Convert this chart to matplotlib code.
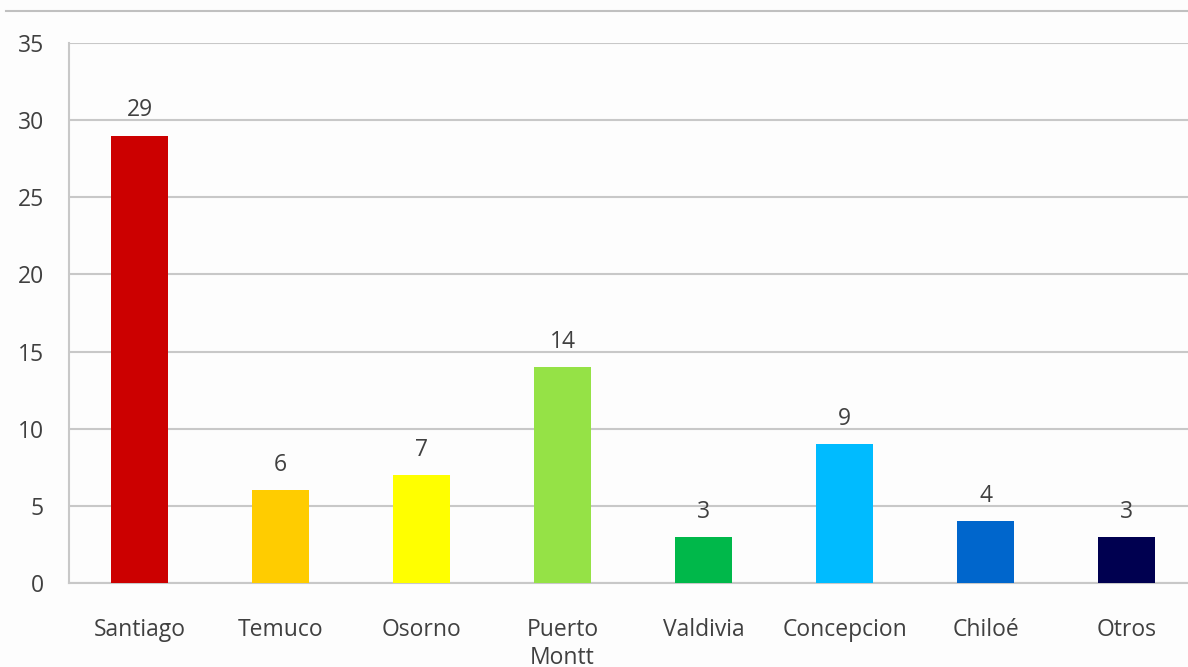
import matplotlib
matplotlib.use("Agg")
import matplotlib.pyplot as plt
from matplotlib.lines import Line2D

categories = ["Santiago", "Temuco", "Osorno", "Puerto\nMontt", "Valdivia", "Concepcion", "Chiloé", "Otros"]
values = [29, 6, 7, 14, 3, 9, 4, 3]
colors = ["#CC0000", "#FFCC00", "#FFFF00", "#95E246", "#00B84A", "#00BBFF", "#0066CC", "#000050"]
yticks = [0, 5, 10, 15, 20, 25, 30, 35]

plt.rcParams['font.family'] = ['Open Sans', 'DejaVu Sans']

W, H = 1188, 667
fig = plt.figure(figsize=(W / 100, H / 100), dpi=100, facecolor="#FDFDFD")
ax = fig.add_axes([69 / W, (H - 583) / H, 1128 / W, 540 / H], facecolor="#FDFDFD")

FS = 16.5
x = list(range(len(categories)))
ax.bar(x, values, width=0.4, color=colors, zorder=3)
for xi, v in zip(x, values):
    ax.text(xi, v + 0.85, str(v), ha="center", va="bottom", fontsize=FS, color="#404040")

ax.set_xlim(-0.5, len(categories) - 0.5)
ax.set_ylim(0, 35)
ax.set_yticks(yticks)
ax.set_xticks(x)
ax.set_xticklabels(categories, fontsize=FS, color="#404040", linespacing=1.25)
ax.tick_params(axis="y", labelsize=FS, colors="#404040", length=0, pad=18)
ax.tick_params(axis="x", length=0, pad=25)
ax.yaxis.grid(True, color="#C8C8C8", linewidth=1.5, zorder=0)
for s in ["top", "right"]:
    ax.spines[s].set_visible(False)
ax.spines["left"].set_color("#C8C8C8")
ax.spines["left"].set_linewidth(1.5)
ax.spines["bottom"].set_color("#C8C8C8")
ax.spines["bottom"].set_linewidth(1.5)

fig.add_artist(Line2D([6 / W, 1.0], [(H - 11) / H, (H - 11) / H], color="#C0C0C0", linewidth=1.5, transform=fig.transFigure))

fig.savefig("out.png", dpi=100, facecolor=fig.get_facecolor())
